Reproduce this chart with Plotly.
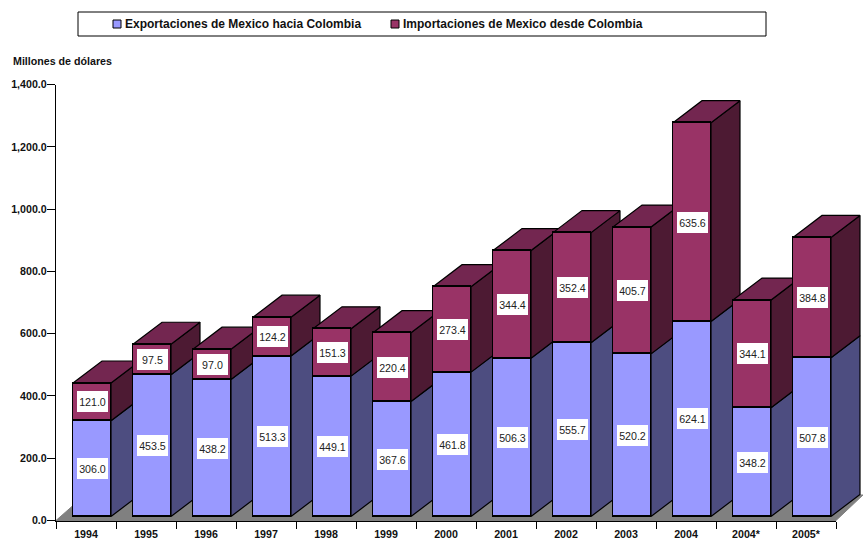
import plotly.graph_objects as go

years = ["1994","1995","1996","1997","1998","1999","2000","2001","2002","2003","2004","2004*","2005*"]
exports = [306.0,453.5,438.2,513.3,449.1,367.6,461.8,506.3,555.7,520.2,624.1,348.2,507.8]
imports = [121.0,97.5,97.0,124.2,151.3,220.4,273.4,344.4,352.4,405.7,635.6,344.1,384.8]
name_exp = "Exportaciones de Mexico hacia Colombia"
name_imp = "Importaciones de Mexico desde Colombia"
y_ticks = [0,200,400,600,800,1000,1200,1400]

W, H = 863, 540
FONT = "Liberation Sans, Arial, sans-serif"
C_EXP, C_EXP_SIDE = "#9999FF", "#4D4D80"
C_IMP, C_IMP_SIDE, C_IMP_TOP = "#993366", "#4D1A33", "#732650"
PX_Y = 0.3126      # px per unit on the bars' scale
PX_X = 60.0        # px per category
BAR_W = 38/60
DX, DY = 29/PX_X, 22/PX_Y
LW = 1.2

fig = go.Figure()
n = len(years)
half = BAR_W/2

def poly(xs, ys, fill):
    fig.add_trace(go.Scatter(x=xs+[xs[0]], y=ys+[ys[0]], mode="lines", fill="toself",
                             fillcolor=fill, line=dict(color="black", width=LW),
                             xaxis="x2", yaxis="y2", showlegend=False, hoverinfo="skip"))

# side and top faces, left to right so that nearer bars cover farther faces
for i in range(n):
    r = i + half
    l = i - half
    a, t = exports[i], exports[i] + imports[i]
    poly([r, r+DX, r+DX, r], [0, DY, a+DY, a], C_EXP_SIDE)
    poly([r, r+DX, r+DX, r], [a, a+DY, t+DY, t], C_IMP_SIDE)
    poly([l, r, r+DX, l+DX], [t, t, t+DY, t+DY], C_IMP_TOP)

# front faces
fig.add_trace(go.Bar(x=years, y=exports, name=name_exp, width=BAR_W, xaxis="x3", yaxis="y3", showlegend=False,
                     marker=dict(color=C_EXP, line=dict(color="black", width=LW)), hoverinfo="y"))
fig.add_trace(go.Bar(x=years, y=imports, name=name_imp, width=BAR_W, xaxis="x3", yaxis="y3", showlegend=False,
                     marker=dict(color=C_IMP, line=dict(color="black", width=LW)), hoverinfo="y"))

# an invisible anchor trace keeps the visible axes alive
fig.add_trace(go.Scatter(x=years, y=[None]*n, xaxis="x", yaxis="y", showlegend=False, hoverinfo="skip"))

annotations = []
def lab(x, y, v):
    annotations.append(dict(x=x, y=y, xref="x3", yref="y3", text=f"{v:.1f}", showarrow=False,
                            bgcolor="white", borderpad=2, borderwidth=0, width=27, height=17,
                            font=dict(family=FONT, size=10.67, color="#222222")))
for i in range(n):
    lab(i, exports[i]/2, exports[i])
    lab(i, exports[i]+imports[i]/2, imports[i])
annotations.append(dict(x=11/W, y=1-61/H, xref="paper", yref="paper", xanchor="left", yanchor="middle",
                        text="<b>Millones de dólares</b>", showarrow=False,
                        font=dict(family=FONT, size=10.67, color="#111111")))
for name, px in ((name_exp, 122.5), (name_imp, 400.5)):
    annotations.append(dict(x=px/W, y=1-24/H, xref="paper", yref="paper", xanchor="left", yanchor="middle",
                            text=f"<b>{name}</b>", showarrow=False,
                            font=dict(family=FONT, size=12, color="#111111")))

left = 56/W
y_bot = 1-520.5/H
y_top = 1-84.5/H
r0 = -36/60  # bars sit 6 px right of the category centre
hidden = dict(visible=False, showgrid=False, zeroline=False)
def swatch(px, color):
    return dict(type="rect", xref="paper", yref="paper", x0=px/W, x1=(px+8)/W, y0=1-28/H, y1=1-20/H,
                line=dict(color="black", width=1), fillcolor=color, layer="above")
fig.update_layout(
    width=W, height=H, autosize=False,
    margin=dict(l=0, r=0, t=0, b=0, pad=0, autoexpand=False),
    paper_bgcolor="white", plot_bgcolor="rgba(0,0,0,0)",
    barmode="stack", bargap=0, showlegend=False,
    font=dict(family=FONT, color="black"),
    xaxis=dict(domain=[left, 836/W], type="category", categoryorder="array", categoryarray=years,
               range=[-0.5, 12.5], anchor="y", tickson="boundaries", ticks="outside", ticklen=7,
               tickwidth=1, tickcolor="black", showline=True, linecolor="black", linewidth=1.3,
               showgrid=False, zeroline=False, tickangle=0, automargin=False, ticklabelstandoff=4,
               tickfont=dict(family=FONT, size=10.67, weight="bold", color="#111111")),
    yaxis=dict(domain=[y_bot, y_top], range=[0, 1400], anchor="x", tickmode="array", tickvals=y_ticks,
               tickformat=",.1f", ticks="outside", ticklen=8, tickwidth=1, tickcolor="black",
               showline=True, linecolor="black", linewidth=1.3, showgrid=False, zeroline=False, automargin=False,
               ticklabelstandoff=-2,
               tickfont=dict(family=FONT, size=10.67, weight="bold", color="#111111")),
    xaxis2=dict(domain=[left, 1], range=[r0, r0+(W-56)/60], anchor="y2", **hidden),
    yaxis2=dict(domain=[y_bot, y_top], range=[-4/PX_Y, (516.5-84.5)/PX_Y], anchor="x2", **hidden),
    xaxis3=dict(domain=[left, 1], type="category", categoryorder="array", categoryarray=years,
                range=[r0, r0+(W-56)/60], anchor="y3", **hidden),
    yaxis3=dict(domain=[y_bot, y_top], range=[-4/PX_Y, (516.5-84.5)/PX_Y], anchor="x3", **hidden),
    annotations=annotations,
    shapes=[
        dict(type="rect", xref="paper", yref="paper", x0=78/W, x1=766/W, y0=1-36/H, y1=1-12/H,
             line=dict(color="black", width=1), fillcolor="white", layer="below"),
        swatch(113, C_EXP), swatch(391, C_IMP),
        dict(type="path", xref="paper", yref="paper", layer="below", fillcolor="#808080",
             line=dict(color="#808080", width=1),
             path=f"M {56/W},{1-520.5/H} L {836/W},{1-520.5/H} L 1,{1-495/H} L {85/W},{1-495/H} Z"),
    ],
)
fig.write_html("out.html", config={"displayModeBar": False},
               post_script="document.body.style.margin='0';document.body.style.overflow='hidden';")
